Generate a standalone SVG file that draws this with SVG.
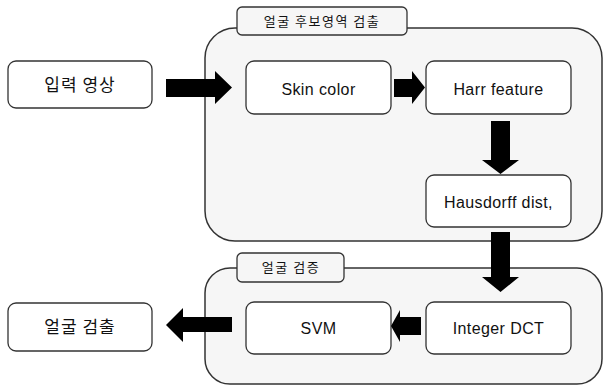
<svg xmlns="http://www.w3.org/2000/svg" width="604" height="387" viewBox="0 0 604 387">
<style>
.container{fill:#f6f6f6;stroke:#333;stroke-width:1.5}
.tab{fill:#f6f6f6;stroke:#333;stroke-width:1.3}
.box{fill:#fff;stroke:#333;stroke-width:1.3}
.arrow{fill:#000}
.en{font-family:"Liberation Sans",Arial,sans-serif;font-size:16px;letter-spacing:0.4px;fill:#111;text-anchor:middle}
.ko{font-family:"Noto Sans CJK KR","Noto Sans",sans-serif;font-size:17px;letter-spacing:1px;fill:#111;text-anchor:middle}
.tabt{font-family:"Noto Sans CJK KR","Noto Sans",sans-serif;font-size:13px;letter-spacing:1.5px;fill:#111;text-anchor:middle}
</style>
<rect width="604" height="387" fill="#fff"/>
<g id="group-candidate">
<rect class="container" x="205" y="28" width="397" height="213" rx="30" ry="30"/>
<rect class="tab" x="237" y="7" width="170" height="28" rx="5"/>
<text class="tabt" x="322" y="26">얼굴 후보영역 검출</text>
</g>
<g id="group-verify">
<rect class="container" x="205" y="268" width="397" height="116" rx="25" ry="25"/>
<rect class="tab" x="237" y="253" width="107" height="29" rx="5"/>
<text class="tabt" x="291" y="272">얼굴 검증</text>
</g>
<g id="input">
<rect class="box" x="8" y="61" width="144" height="47" rx="8"/>
<text class="ko" x="80" y="91">입력 영상</text>
</g>
<g id="skin">
<rect class="box" x="246" y="61" width="145" height="53" rx="8"/>
<text class="en" x="318.5" y="95">Skin color</text>
</g>
<g id="harr">
<rect class="box" x="426" y="61" width="145" height="53" rx="8"/>
<text class="en" x="498.5" y="95">Harr feature</text>
</g>
<g id="hausdorff">
<rect class="box" x="426" y="175" width="145" height="52" rx="8"/>
<text class="en" x="498.5" y="208">Hausdorff dist,</text>
</g>
<g id="dct">
<rect class="box" x="426" y="302" width="145" height="52" rx="8"/>
<text class="en" x="498.5" y="334">Integer DCT</text>
</g>
<g id="svm">
<rect class="box" x="246" y="302" width="145" height="52" rx="8"/>
<text class="en" x="318.5" y="334">SVM</text>
</g>
<g id="output">
<rect class="box" x="8" y="303" width="144" height="48" rx="8"/>
<text class="ko" x="80" y="333">얼굴 검출</text>
</g>
<g id="connectors">
<polygon class="arrow" points="166,79 215,79 215,71 232,87.5 215,104 215,97 166,97"/>
<polygon class="arrow" points="394,79 412,79 412,71 425,87.5 412,104 412,97 394,97"/>
<polygon class="arrow" points="491,121 510,121 510,160 519,160 500.5,174 482,160 491,160"/>
<polygon class="arrow" points="491,232 510,232 510,277 519,277 500.5,292 482,277 491,277"/>
<polygon class="arrow" points="421,317 400,317 400,310 391,326 400,342 400,335 421,335"/>
<polygon class="arrow" points="232,317 183,317 183,308 166,325 183,342 183,332 232,332"/>
</g>
</svg>
